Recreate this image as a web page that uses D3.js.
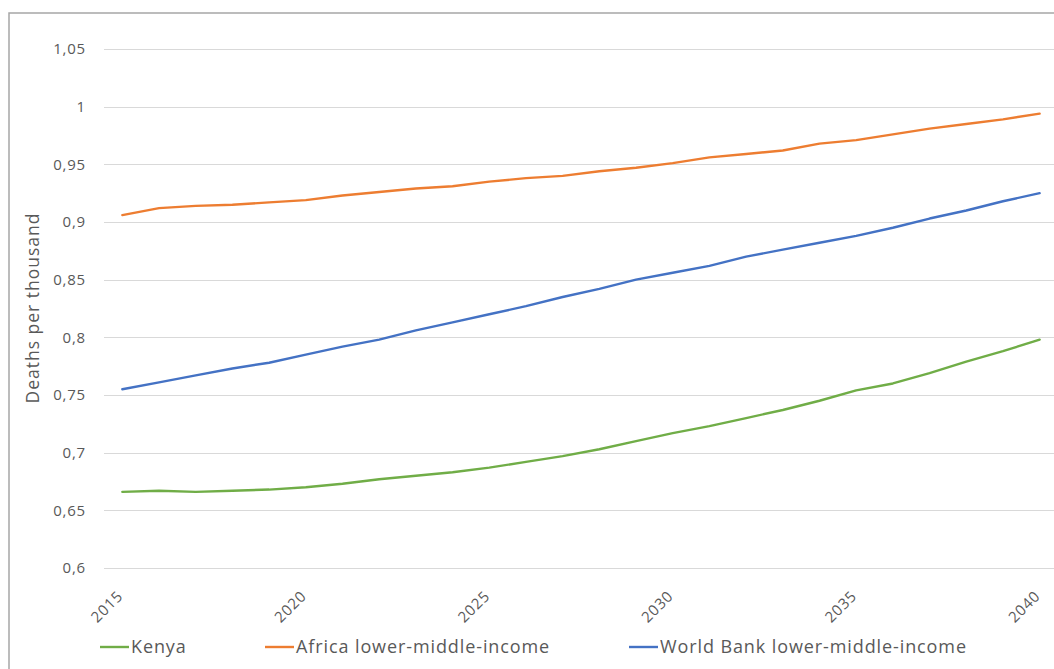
<!DOCTYPE html>
<html>
<head>
<meta charset="utf-8">
<script src="https://cdn.jsdelivr.net/npm/d3@7"></script>
<style>
  html, body { margin: 0; padding: 0; background: #fff; }
  svg { display: block; }
  text { font-family: "Open Sans", "Noto Sans", sans-serif; fill: #595959; }
</style>
</head>
<body>
<svg id="chart" width="1054" height="669"></svg>
<script>
// Mortality projections, deaths per thousand, 2015–2040
const years = d3.range(2015, 2041);
const kenya = [0.666, 0.667, 0.666, 0.667, 0.668, 0.670, 0.673, 0.677, 0.680, 0.683,
               0.687, 0.692, 0.697, 0.703, 0.710, 0.717, 0.723, 0.730, 0.737, 0.745,
               0.754, 0.760, 0.769, 0.779, 0.788, 0.798];
const africaLMI = [0.906, 0.912, 0.914, 0.915, 0.917, 0.919, 0.923, 0.926, 0.929, 0.931,
                   0.935, 0.938, 0.940, 0.944, 0.947, 0.951, 0.956, 0.959, 0.962, 0.968,
                   0.971, 0.976, 0.981, 0.985, 0.989, 0.994];
const worldBankLMI = [0.755, 0.761, 0.767, 0.773, 0.778, 0.785, 0.792, 0.798, 0.806, 0.813,
                      0.820, 0.827, 0.835, 0.842, 0.850, 0.856, 0.862, 0.870, 0.876, 0.882,
                      0.888, 0.895, 0.903, 0.910, 0.918, 0.925];
const yTicks = [0.6, 0.65, 0.7, 0.75, 0.8, 0.85, 0.9, 0.95, 1, 1.05];
const xTickLabels = [2015, 2020, 2025, 2030, 2035, 2040];
const seriesNames = ["Kenya", "Africa lower-middle-income", "World Bank lower-middle-income"];
const seriesColors = ["#70AD47", "#ED7D31", "#4472C4"];

const series = [
  { name: seriesNames[0], values: kenya, color: seriesColors[0] },
  { name: seriesNames[1], values: africaLMI, color: seriesColors[1] },
  { name: seriesNames[2], values: worldBankLMI, color: seriesColors[2] }
];

const svg = d3.select("#chart");

// outer chart frame (right and bottom run past the canvas)
svg.append("rect")
  .attr("x", 9).attr("y", 13)
  .attr("width", 1100).attr("height", 700)
  .attr("fill", "#fff")
  .attr("stroke", "#a6a6a6")
  .attr("stroke-width", 1.5);

const plot = { left: 104, top: 49, width: 954, bottom: 568 };

const x = d3.scalePoint()
  .domain(years)
  .range([plot.left, plot.left + plot.width])
  .padding(0.5);

const y = d3.scaleLinear()
  .domain([0.6, 1.05])
  .range([plot.bottom, plot.top]);

const fmt = v => String(+v.toFixed(2)).replace(".", ",");

// horizontal gridlines
svg.append("g")
  .selectAll("line")
  .data(yTicks)
  .join("line")
  .attr("x1", plot.left)
  .attr("x2", 1054)
  .attr("y1", d => Math.round(y(d)) + 0.5)
  .attr("y2", d => Math.round(y(d)) + 0.5)
  .attr("stroke", "#d9d9d9")
  .attr("stroke-width", 1);

// y axis labels
const yAxis = d3.axisLeft(y).tickValues(yTicks).tickFormat(fmt).tickSize(0).tickPadding(0);
svg.append("g")
  .attr("transform", `translate(${86},0)`)
  .call(yAxis)
  .call(g => g.select(".domain").remove())
  .call(g => g.selectAll("text")
    .attr("font-size", 15)
    .attr("letter-spacing", 0.8)
    .attr("fill", "#595959")
    .attr("font-family", "'Open Sans', sans-serif"));

// x axis labels, rotated
const xAxis = d3.axisBottom(x)
  .tickValues(xTickLabels)
  .tickFormat(d => String(d))
  .tickSize(0)
  .tickPadding(0);
svg.append("g")
  .attr("transform", `translate(0,${plot.bottom})`)
  .call(xAxis)
  .call(g => g.select(".domain").remove())
  .call(g => g.selectAll("text")
    .attr("font-size", 15)
    .attr("letter-spacing", 0.8)
    .attr("fill", "#595959")
    .attr("font-family", "'Open Sans', sans-serif")
    .attr("text-anchor", "end")
    .attr("dy", null)
    .attr("y", 0)
    .attr("transform", "translate(1,29) rotate(-45)"));

// y axis title
svg.append("text")
  .attr("transform", `translate(39,${308}) rotate(-90)`)
  .attr("text-anchor", "middle")
  .attr("font-size", 17.5)
  .attr("letter-spacing", 1)
  .text("Deaths per thousand");

// series lines
const line = d3.line()
  .x((d, i) => x(years[i]))
  .y(d => y(d));

svg.append("g")
  .selectAll("path")
  .data(series)
  .join("path")
  .attr("d", d => line(d.values))
  .attr("fill", "none")
  .attr("stroke", d => d.color)
  .attr("stroke-width", 2.4)
  .attr("stroke-linejoin", "round")
  .attr("stroke-linecap", "round");

// legend
const legendX = [100, 265, 629];
const legend = svg.append("g")
  .selectAll("g")
  .data(series)
  .join("g")
  .attr("transform", (d, i) => `translate(${legendX[i]},${647})`);
legend.append("line")
  .attr("x1", 0).attr("x2", 29)
  .attr("y1", 0).attr("y2", 0)
  .attr("stroke", d => d.color)
  .attr("stroke-width", 2.4);
legend.append("text")
  .attr("x", 31)
  .attr("y", 0)
  .attr("dy", "0.32em")
  .attr("font-size", 18)
  .attr("letter-spacing", 0.9)
  .text(d => d.name);
</script>
</body>
</html>
